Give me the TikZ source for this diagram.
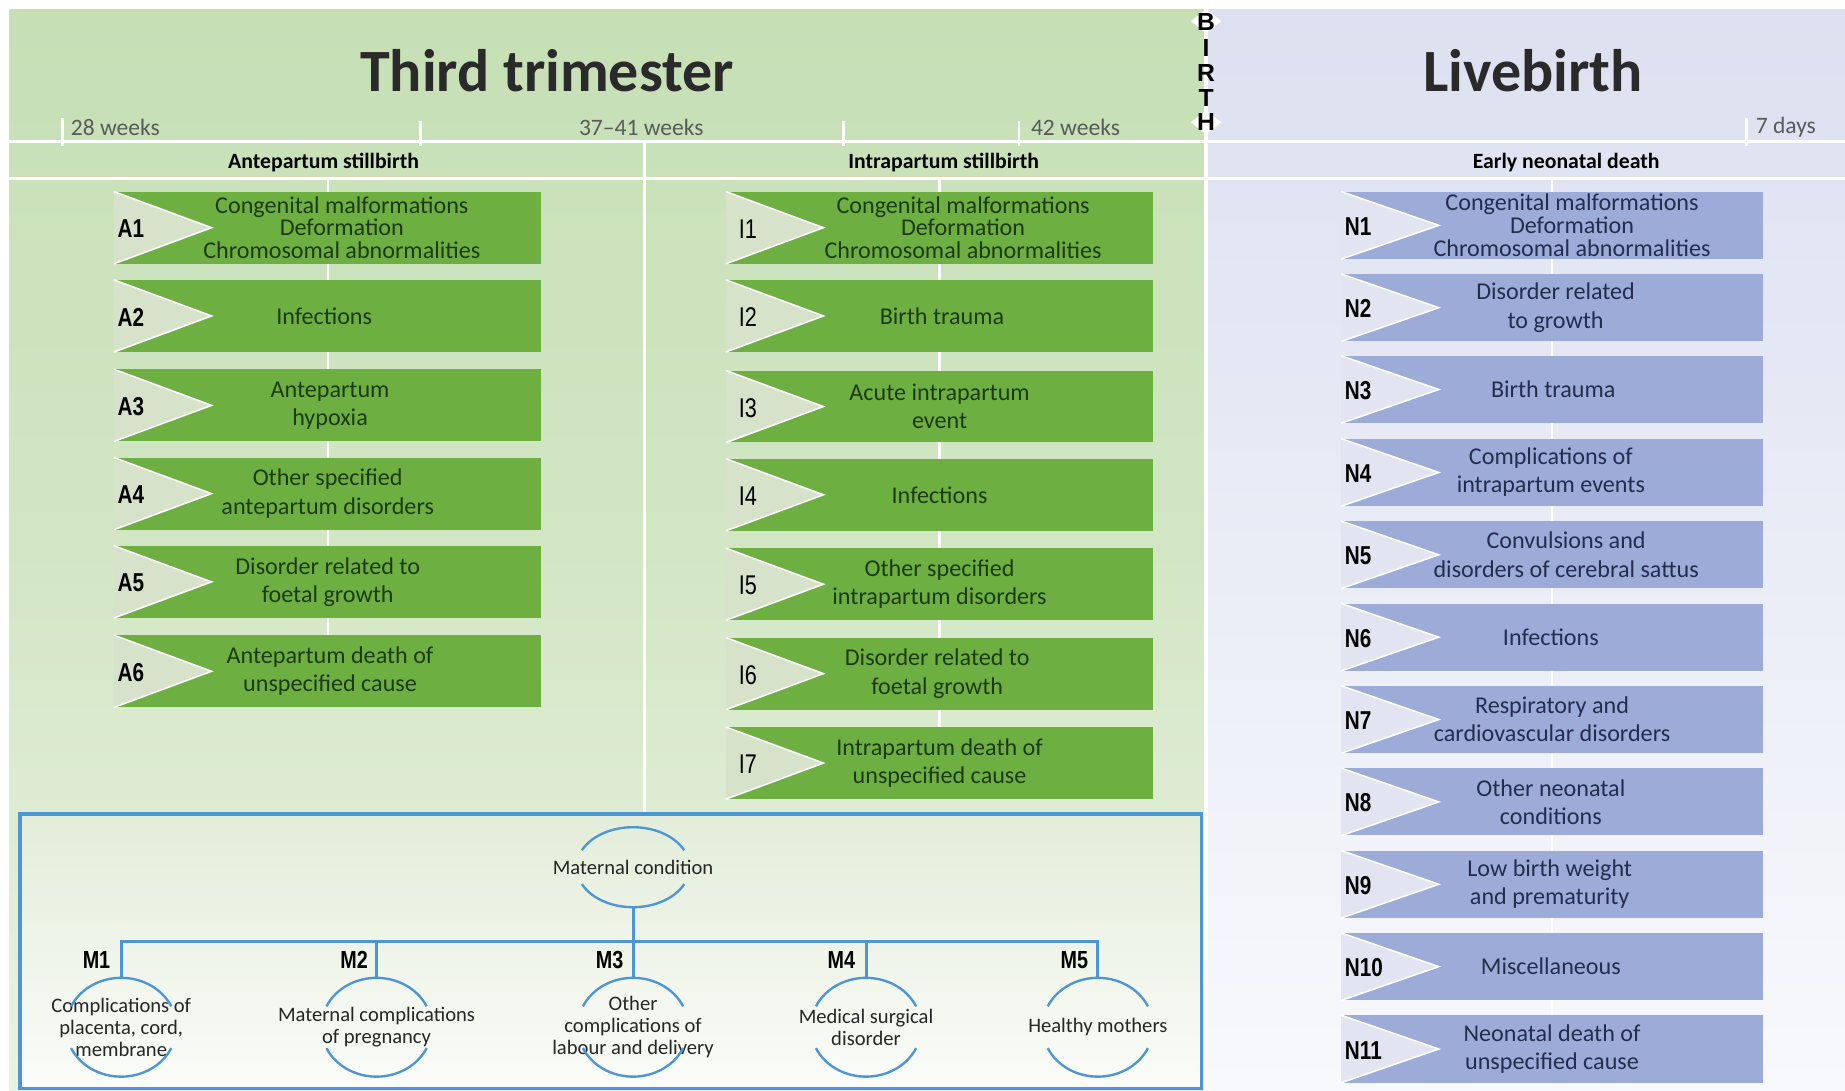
\documentclass[tikz,border=0pt]{standalone}
\usepackage{fontspec}
\usepackage{graphicx}
\setmainfont{Carlito}
\newfontfamily\arialf{Liberation Sans}
\usetikzlibrary{calc}
\definecolor{bgG}{HTML}{C6DFB5}
\definecolor{bgGm}{HTML}{D2E6C4}
\definecolor{bgGb}{HTML}{EAF2E3}
\definecolor{bgL}{HTML}{DCE0F0}
\definecolor{bgLb}{HTML}{F8F9FC}
\definecolor{boxG}{HTML}{6DB041}
\definecolor{triG}{HTML}{D6E3CA}
\definecolor{boxN}{HTML}{9CABD7}
\definecolor{triN}{HTML}{E2E5F1}
\definecolor{txtG}{HTML}{1E3A12}
\definecolor{txtN}{HTML}{252D4F}
\definecolor{matB}{HTML}{4C95D9}
\definecolor{matTop}{HTML}{E3EDD9}
\definecolor{matBot}{HTML}{FBFCF9}
\definecolor{tickgray}{HTML}{5A5A5A}
\definecolor{titlec}{HTML}{2A2A2A}
\tikzset{
  gbox/.style={rectangle, fill=boxG, minimum width=363pt, minimum height=61pt, inner sep=0pt},
  nbox/.style={rectangle, fill=boxN, minimum width=358pt, minimum height=57pt, inner sep=0pt},
  gtri/.style={fill=triG},
  ntri/.style={fill=triN},
  triedge/.style={white, line width=1.3pt},
  gtext/.style={align=center, text=txtG, font=\fontsize{20.5}{24}\selectfont, inner sep=0pt},
  ntext/.style={align=center, text=txtN, font=\fontsize{20.5}{24}\selectfont, inner sep=0pt},
  three/.style={font=\fontsize{20.5}{19.5}\selectfont},
  blabel/.style={anchor=west, inner sep=0pt, font=\arialf\bfseries\fontsize{22}{22}\selectfont},
  ilabel/.style={anchor=west, inner sep=0pt, font=\arialf\fontsize{23}{23}\selectfont},
  wline/.style={white, line width=2.5pt},
  tickln/.style={white, line width=2.5pt},
  ticklabel/.style={text=tickgray, font=\fontsize{20}{20}\selectfont, inner sep=0pt},
  seclabel/.style={font=\bfseries\fontsize{18.5}{18.5}\selectfont, inner sep=0pt},
  titlestyle/.style={text=titlec, font=\bfseries\fontsize{51}{51}\selectfont, inner sep=0pt},
  mline/.style={matB, line width=2.5pt},
  marc/.style={matB, line width=2pt},
  mtext/.style={align=center, font=\fontsize{17.5}{18.5}\selectfont, text=black!85, inner sep=0pt, minimum width=94pt, minimum height=84pt},
  mlab/.style={font=\arialf\bfseries\fontsize{21}{21}\selectfont, inner sep=0pt},
  birthletter/.style={inner sep=0pt, font=\arialf\bfseries\fontsize{21}{21}\selectfont},
}
% box macros: name, cx, cy, text dx, extra style, text
\newcommand\gbx[6]{%
  \node[gbox] (#1) at (#2,#3) {};
  \fill[gtri] (#1.north west) -- ([xshift=83pt]#1.west) -- (#1.south west) -- cycle;
  \draw[triedge] (#1.north west) -- ([xshift=83pt]#1.west) -- (#1.south west);
  \node[gtext,#5] (#1t) at ([xshift=#4pt]#1.center) {#6};
}
\newcommand\nbx[6]{%
  \node[nbox] (#1) at (#2,#3) {};
  \fill[ntri] (#1.north west) -- ([xshift=83pt]#1.west) -- (#1.south west) -- cycle;
  \draw[triedge] (#1.north west) -- ([xshift=83pt]#1.west) -- (#1.south west);
  \node[ntext,#5] (#1t) at ([xshift=#4pt]#1.center) {#6};
  \node[blabel] (#1l) at ([xshift=3pt,yshift=-1pt]#1.west) {\scalebox{0.8}[1]{#1}};
}
\newcommand\mymarcs[3]{%
  \draw[marc, shift={(#1.center)}] plot[domain=205:335, samples=30] ({#2*cos(\x)},{#3*sin(\x)});
  \draw[marc, shift={(#1.center)}] plot[domain=25:155, samples=30] ({#2*cos(\x)},{#3*sin(\x)});
}
\begin{document}
\begin{tikzpicture}[x=1pt,y=-1pt]
\useasboundingbox (0,0) rectangle (1568,927);
\fill[white] (0,0) rectangle (1568,927);
% panels
\shade[top color=bgG, bottom color=bgGb, middle color=bgGm] (8,8) rectangle (1023,927);
\shade[top color=bgL, bottom color=bgLb] (1027,8) rectangle (1568,927);
% titles
\node[titlestyle] (t1) at (465,60) {Third trimester};
\node[titlestyle] (t2) at (1303,60) {Livebirth};
% horizontal lines
\draw[wline] (8,120) -- (1568,120);
\draw[wline] (8,152) -- (1568,152);
% ticks
\draw[tickln] (53,100) -- (53,124);
\draw[tickln] (357,103) -- (357,124);
\draw[tickln] (717,103) -- (717,124);
\draw[tickln] (866,103) -- (866,124);
\draw[tickln] (1484,100) -- (1484,124);
\node[ticklabel, anchor=west] (w28) at (60,108) {28 weeks};
\node[ticklabel] (w37) at (545,108) {37--41 weeks};
\node[ticklabel, anchor=west] (w42) at (876,108) {42 weeks};
\node[ticklabel, anchor=west] (d7) at (1492,108) {7 days};
% section labels
\node[seclabel] (s1) at (275,138) {Antepartum stillbirth};
\node[seclabel] (s2) at (802,138) {Intrapartum stillbirth};
\node[seclabel] (s3) at (1331,138) {Early neonatal death};
% vertical separators
\draw[wline] (548,120) -- (548,692);
\draw[white, line width=2pt] (278.5,152) -- (278.5,601);
\draw[white, line width=2pt] (798.5,152) -- (798.5,679);
\draw[white, line width=2pt] (1319,152) -- (1319,920);
% birth line
\draw[white, line width=4pt] (1025,8) -- (1025,927);
\fill[white] (1025,8) -- (1038,18) -- (1025,28) -- (1012,18) -- cycle;
\fill[white] (1025,94) -- (1038,104) -- (1025,114) -- (1012,104) -- cycle;
\node[birthletter] (bB) at (1025,19) {B};
\node[birthletter] (bI) at (1025,40.5) {I};
\node[birthletter] (bR) at (1025,62) {R};
\node[birthletter] (bT) at (1025,83) {T};
\node[birthletter] (bH) at (1025,104) {H};
% antepartum boxes
\gbx{A1}{278.5}{193.5}{12}{three}{Congenital malformations\\Deformation\\Chromosomal abnormalities}
\gbx{A2}{278.5}{268.5}{-3}{}{Infections}
\gbx{A3}{278.5}{344.5}{2}{}{Antepartum\\hypoxia}
\gbx{A4}{278.5}{419.5}{0}{}{Other specified\\antepartum disorders}
\gbx{A5}{278.5}{494.5}{0}{}{Disorder related to\\foetal growth}
\gbx{A6}{278.5}{570.5}{2}{}{Antepartum death of\\unspecified cause}
\foreach \n in {A1,A2,A3,A4,A5,A6}
  \node[blabel] (\n l) at ([xshift=3pt,yshift=-1pt]\n.west) {\scalebox{0.8}[1]{\n}};
% intrapartum boxes
\gbx{I1}{798.5}{193.5}{20}{three}{Congenital malformations\\Deformation\\Chromosomal abnormalities}
\gbx{I2}{798.5}{268.5}{2}{}{Birth trauma}
\gbx{I3}{798.5}{345.5}{0}{}{Acute intrapartum\\event}
\gbx{I4}{798.5}{420.5}{0}{}{Infections}
\gbx{I5}{798.5}{496.5}{0}{}{Other specified\\intrapartum disorders}
\gbx{I6}{798.5}{572.5}{-2}{}{Disorder related to\\foetal growth}
\gbx{I7}{798.5}{648.5}{0}{}{Intrapartum death of\\unspecified cause}
\foreach \n in {I1,I2,I3,I4,I5,I6,I7}
  \node[ilabel] (\n l) at ([xshift=11pt,yshift=-1pt]\n.west) {\scalebox{0.8}[1]{\n}};
% neonatal boxes
\nbx{N1}{1319}{191.5}{17}{three}{Congenital malformations\\Deformation\\Chromosomal abnormalities}
\nbx{N2}{1319}{261.5}{3}{}{Disorder related\\to growth}
\nbx{N3}{1319}{331}{1}{}{Birth trauma}
\nbx{N4}{1319}{401.5}{-1}{}{Complications of\\intrapartum events}
\nbx{N5}{1319}{471.5}{12}{}{Convulsions and\\disorders of cerebral sattus}
\nbx{N6}{1319}{541.5}{-1}{}{Infections}
\nbx{N7}{1319}{611.5}{0}{}{Respiratory and\\cardiovascular disorders}
\nbx{N8}{1319}{681.5}{-1}{}{Other neonatal\\conditions}
\nbx{N9}{1319}{751.5}{-2}{}{Low birth weight\\and prematurity}
\nbx{N10}{1319}{821.5}{-1}{}{Miscellaneous}
\nbx{N11}{1319}{891.5}{0}{}{Neonatal death of\\unspecified cause}
% maternal box
\shade[top color=matTop, bottom color=matBot] (17,692) rectangle (1021,925);
\draw[matB, line width=3pt] (17,692) rectangle (1021,925);
\node[mtext, minimum width=96pt, minimum height=68pt] (M0) at (538,737) {Maternal condition};
\node[mtext] (M1) at (103,873) {Complications of\\placenta, cord,\\membrane};
\node[mtext] (M2) at (320,873) {Maternal complications\\of pregnancy};
\node[mtext] (M3) at (538,873) {Other\\complications of\\labour and delivery};
\node[mtext] (M4) at (736,873) {Medical surgical\\disorder};
\node[mtext] (M5) at (933,873) {Healthy mothers};
\mymarcs{M0}{48}{34}
\foreach \m in {M1,M2,M3,M4,M5} {\mymarcs{\m}{47}{42}}
\coordinate (bar) at (538,800);
\draw[mline] (M0.south) -- (M0.south |- bar);
\draw[mline] (M1.north) -- (M1.north |- bar) -- (M5.north |- bar) -- (M5.north);
\foreach \m in {M2,M3,M4} \draw[mline] (\m.north) -- (\m.north |- bar);
\node[mlab] (M1l) at (82,816) {\scalebox{0.8}[1]{M1}};
\node[mlab] (M2l) at (301,816) {\scalebox{0.8}[1]{M2}};
\node[mlab] (M3l) at (518,816) {\scalebox{0.8}[1]{M3}};
\node[mlab] (M4l) at (715,816) {\scalebox{0.8}[1]{M4}};
\node[mlab] (M5l) at (913,816) {\scalebox{0.8}[1]{M5}};
\end{tikzpicture}
\end{document}
